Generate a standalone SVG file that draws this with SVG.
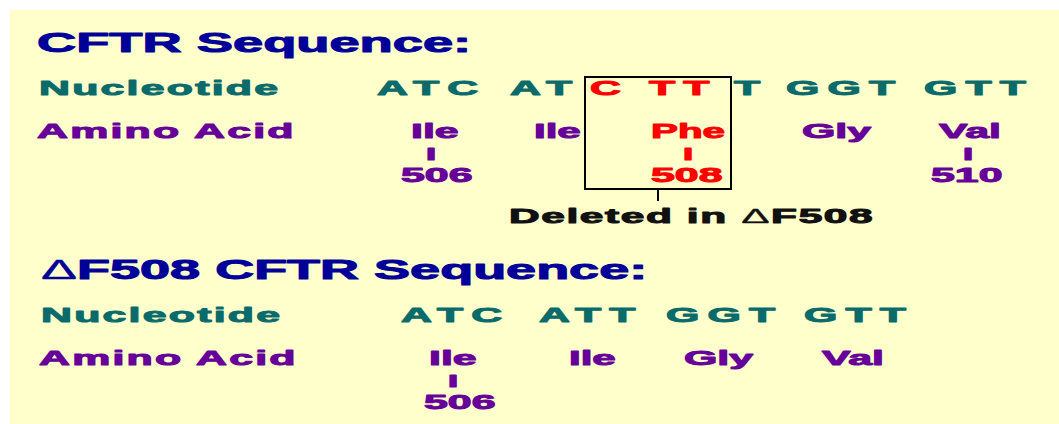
<svg xmlns="http://www.w3.org/2000/svg" width="1059" height="424" viewBox="0 0 1059 424">
  <style>
    text { font-family: "Liberation Sans", Arial, sans-serif; font-weight: bold; stroke-linejoin: round; }
    .head { font-size: 27px; fill: #000099; stroke: #000099; stroke-width: 1px; }
    .label { font-size: 21px; letter-spacing: 1.1px; stroke-width: 1px; }
    .nt { font-size: 21px; letter-spacing: 4px; fill: #0b6b6b; stroke: #0b6b6b; stroke-width: 1px; }
    .aa { font-size: 21px; fill: #660099; stroke: #660099; stroke-width: 1px; }
    .tick { font-size: 17px; fill: #660099; stroke: #660099; stroke-width: 1.2px; text-anchor: middle; }
    .teal { fill: #0b6b6b; stroke: #0b6b6b; }
    .purple { fill: #660099; stroke: #660099; }
    .red { fill: #ff0000; stroke: #ff0000; }
    .note { font-size: 21px; letter-spacing: 0.8px; fill: #111111; stroke: #111111; stroke-width: 1px; }
    .delta { font-weight: normal; stroke-width: 0.3px; }
    .frame { fill: none; stroke: #000000; stroke-width: 2; }
    .link { stroke: #000000; stroke-width: 2; }
  </style>

  <!-- page background -->
  <rect x="10" y="10" width="1049" height="414" fill="#ffffcc"/>

  <!-- normal CFTR sequence -->
  <g id="cftr-sequence">
    <text class="head" transform="translate(37 52) scale(2.01 1)">CFTR Sequence:</text>
    <text class="label teal" transform="translate(39 95) scale(2.04 1)">Nucleotide</text>
    <text class="label purple" transform="translate(37 138) scale(2.04 1)">Amino Acid</text>

    <g id="cftr-nucleotides">
      <text class="nt" transform="translate(377 95) scale(2.04 1)">ATC</text>
      <text class="nt" transform="translate(510 95) scale(2.04 1)">AT</text>
      <text class="nt red" transform="translate(590 95) scale(2.04 1)">C</text>
      <text class="nt red" transform="translate(649 95) scale(2.04 1)" letter-spacing="1.5">TT</text>
      <text class="nt" transform="translate(734 95) scale(2.04 1)">T</text>
      <text class="nt" transform="translate(786 95) scale(2.04 1)">GGT</text>
      <text class="nt" transform="translate(924 95) scale(2.04 1)">GTT</text>
    </g>

    <g id="cftr-residues">
      <text class="aa" transform="translate(411 138) scale(2.04 1)">Ile</text>
      <text class="tick" transform="translate(431 159.5) scale(2.04 1)">I</text>
      <text class="aa" transform="translate(401 182) scale(2.04 1)">506</text>

      <text class="aa" transform="translate(534 138) scale(2.0 1)">Ile</text>

      <text class="aa red" transform="translate(651 138) scale(1.92 1)">Phe</text>
      <text class="tick red" transform="translate(688 159.5) scale(2.04 1)">I</text>
      <text class="aa red" transform="translate(651 182) scale(2.04 1)">508</text>

      <text class="aa" transform="translate(802 138) scale(2.04 1)">Gly</text>

      <text class="aa" transform="translate(939 138) scale(2.04 1)">Val</text>
      <text class="tick" transform="translate(968 159.5) scale(2.04 1)">I</text>
      <text class="aa" transform="translate(931 182) scale(2.04 1)">510</text>
    </g>
  </g>

  <!-- deleted codon frame and its note -->
  <g id="deleted-frame">
    <rect class="frame" x="585" y="77" width="146" height="112"/>
  </g>
  <g id="connectors">
    <line class="link" x1="658" y1="189" x2="658" y2="201"/>
  </g>
  <g id="deleted-note">
    <text class="note" transform="translate(509 223) scale(2.02 1)">Deleted in <tspan class="delta">Δ</tspan>F508</text>
  </g>

  <!-- ΔF508 CFTR sequence -->
  <g id="df508-sequence">
    <text class="head" transform="translate(41 279) scale(2.0 1)"><tspan class="delta">Δ</tspan>F508 CFTR Sequence:</text>
    <text class="label teal" transform="translate(41 322) scale(2.04 1)">Nucleotide</text>
    <text class="label purple" transform="translate(39 365) scale(2.04 1)">Amino Acid</text>

    <g id="df508-nucleotides">
      <text class="nt" transform="translate(401 322) scale(2.04 1)">ATC</text>
      <text class="nt" transform="translate(539 322) scale(2.04 1)">ATT</text>
      <text class="nt" transform="translate(666 322) scale(2.04 1)">GGT</text>
      <text class="nt" transform="translate(804 322) scale(2.04 1)">GTT</text>
    </g>

    <g id="df508-residues">
      <text class="aa" transform="translate(429 365) scale(2.04 1)">Ile</text>
      <text class="tick" transform="translate(453 386.5) scale(2.04 1)">I</text>
      <text class="aa" transform="translate(424 409) scale(2.04 1)">506</text>
      <text class="aa" transform="translate(569 365) scale(2.0 1)">Ile</text>
      <text class="aa" transform="translate(684 365) scale(2.04 1)">Gly</text>
      <text class="aa" transform="translate(822 365) scale(2.04 1)">Val</text>
    </g>
  </g>
</svg>
